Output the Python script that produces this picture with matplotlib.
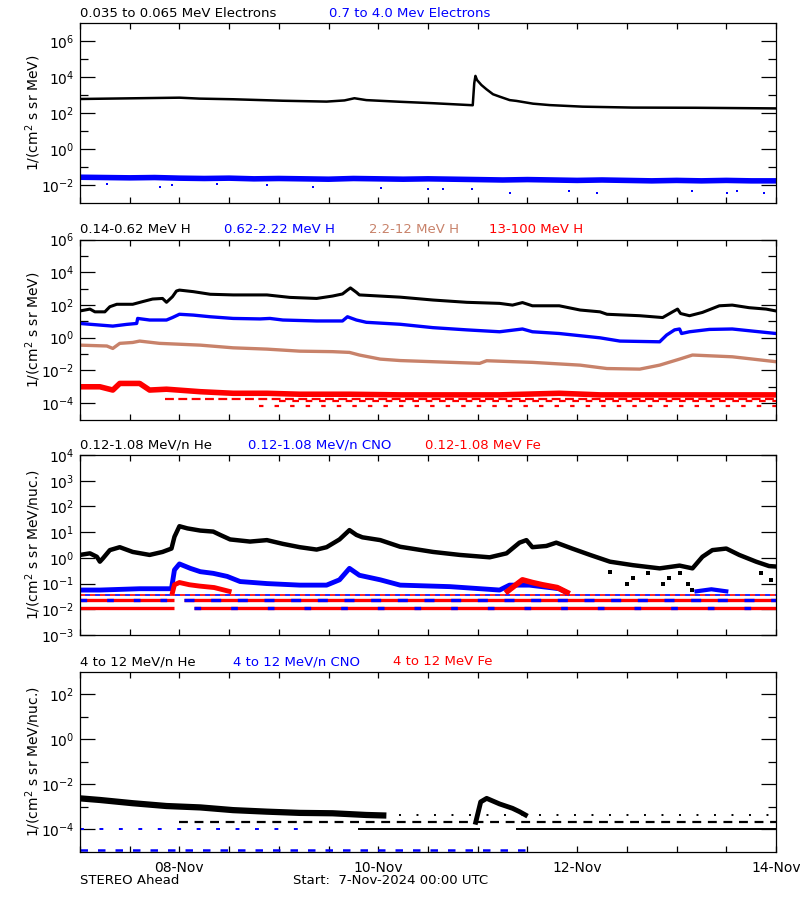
import numpy as np
import matplotlib
matplotlib.use("Agg")
import matplotlib.pyplot as plt

plt.rcParams['font.family'] = ['DejaVu Sans']
plt.rcParams['mathtext.default'] = 'regular'

BLUE = '#0000ff'
RED = '#ff0000'
BROWN = '#c8826a'
BLACK = '#000000'

# ---------------- time axis (days since 7-Nov-2024 00:00 UTC)
day_tick_pos = [1, 3, 5, 7]
day_tick_lab = ['08-Nov', '10-Nov', '12-Nov', '14-Nov']
half_day_ticks = [0, 0.5, 1, 1.5, 2, 2.5, 3, 3.5, 4, 4.5, 5, 5.5, 6, 6.5, 7]

# ---------------- Panel 1 : electrons
e_lo_t = [0.0, 1.0, 1.2, 1.54, 2.04, 2.48, 2.66, 2.76, 2.88, 3.22, 3.55, 3.95,
          3.965, 3.977, 3.993, 4.037, 4.087, 4.154, 4.221, 4.322, 4.389, 4.556,
          4.724, 5.055, 5.558, 6.2, 7.0]
e_lo_v = [600, 710, 630, 580, 480, 430, 500, 660, 520, 420, 350, 270,
          4500, 11500, 6800, 3600, 2100, 1100, 810, 520, 470, 330,
          275, 225, 200, 195, 180]

e_hi_t = [0.0, 0.25, 0.5, 0.75, 1.0, 1.25, 1.5, 1.75, 2.0, 2.25, 2.5, 2.75, 3.0,
          3.25, 3.5, 3.75, 4.0, 4.25, 4.5, 4.75, 5.0, 5.25, 5.5, 5.75, 6.0,
          6.25, 6.5, 6.75, 7.0]
e_hi_v = [0.027, 0.026, 0.025, 0.026, 0.024, 0.023, 0.024, 0.022, 0.023, 0.022,
          0.021, 0.023, 0.022, 0.021, 0.022, 0.021, 0.020, 0.019, 0.020, 0.019,
          0.018, 0.019, 0.018, 0.017, 0.018, 0.017, 0.018, 0.017, 0.017]
e_hi_out_t = [0.27, 0.80, 0.93, 1.38, 1.88, 2.34, 3.03, 3.50, 3.65, 3.94, 4.32,
              4.92, 5.20, 6.16, 6.51, 6.61, 6.88]
e_hi_out_v = [0.012, 0.008, 0.010, 0.012, 0.010, 0.008, 0.0065, 0.0058, 0.0058,
              0.0058, 0.0035, 0.0048, 0.0035, 0.0048, 0.0035, 0.0048, 0.0035]

# ---------------- Panel 2 : protons
h1_t = [0.0, 0.10, 0.15, 0.25, 0.30, 0.37, 0.53, 0.63, 0.73, 0.83, 0.87, 0.93,
        0.97, 1.0, 1.14, 1.31, 1.54, 1.88, 2.11, 2.38, 2.54, 2.64, 2.69, 2.72,
        2.78, 2.81, 3.22, 3.55, 3.89, 4.22, 4.35, 4.45, 4.55, 4.82, 5.03, 5.23,
        5.30, 5.63, 5.86, 5.96, 6.01, 6.04, 6.13, 6.26, 6.43, 6.56, 6.73, 6.90, 7.0]
h1_v = [43, 56, 38, 38, 78, 110, 110, 160, 230, 250, 145, 320,
        710, 810, 650, 450, 410, 410, 290, 250, 350, 470, 810, 1100,
        590, 410, 300, 200, 145, 125, 98, 140, 89, 89, 49, 38,
        27, 22, 17, 38, 56, 30, 22, 35, 89, 98, 68, 56, 43]

h2_t = [0.0, 0.20, 0.33, 0.47, 0.57, 0.58, 0.70, 0.87, 0.93, 1.0, 1.14, 1.31,
        1.54, 1.81, 1.91, 2.04, 2.38, 2.64, 2.69, 2.78, 2.88, 3.22, 3.55, 3.89,
        4.22, 4.45, 4.55, 4.82, 5.23, 5.43, 5.83, 5.90, 5.98, 6.03, 6.05, 6.13,
        6.33, 6.56, 6.83, 7.0]
h2_v = [7.4, 5.9, 5.1, 6.5, 7.4, 15, 12, 12, 17, 27, 24, 19,
        15, 14, 15, 12, 10.5, 10.5, 19, 12, 8.7, 6.6, 4.1, 3.0,
        2.3, 3.4, 2.3, 1.8, 0.98, 0.62, 0.56, 1.45, 3.0, 3.4, 1.8, 2.3,
        3.2, 3.4, 2.3, 1.8]

h3_t = [0.0, 0.27, 0.33, 0.40, 0.53, 0.60, 0.80, 1.21, 1.54, 1.88, 2.21, 2.54,
        2.71, 2.81, 3.02, 3.22, 4.02, 4.09, 4.55, 5.03, 5.30, 5.63, 5.83, 6.03,
        6.16, 6.56, 7.0]
h3_v = [0.35, 0.31, 0.22, 0.45, 0.51, 0.62, 0.45, 0.35, 0.24, 0.20, 0.15, 0.14,
        0.126, 0.087, 0.049, 0.040, 0.027, 0.039, 0.031, 0.021, 0.013, 0.012,
        0.021, 0.049, 0.087, 0.068, 0.034]

h4_t = [0.0, 0.20, 0.33, 0.40, 0.60, 0.70, 0.87, 1.21, 1.54, 1.88, 2.21, 2.71,
        3.22, 4.22, 4.82, 5.23, 6.23, 7.0]
h4_v = [1.0e-3, 1.0e-3, 6.3e-4, 1.6e-3, 1.6e-3, 6.3e-4, 7.1e-4, 5.0e-4, 4.0e-4,
        4.0e-4, 3.5e-4, 3.5e-4, 3.2e-4, 3.2e-4, 4.0e-4, 3.2e-4, 3.2e-4, 3.2e-4]
h4_floor_v = [1.7e-4, 1.26e-4, 6.9e-5]
h4_floor_t0 = [0.85, 2.0, 1.8]

# ---------------- Panel 3 : low-energy heavy ions
he1_t = [0.0, 0.10, 0.17, 0.20, 0.23, 0.30, 0.40, 0.53, 0.70, 0.83, 0.92, 0.95,
         1.0, 1.08, 1.21, 1.34, 1.41, 1.51, 1.71, 1.88, 2.04, 2.21, 2.38, 2.48,
         2.61, 2.71, 2.78, 2.84, 3.02, 3.22, 3.55, 3.82, 4.12, 4.29, 4.42, 4.49,
         4.55, 4.69, 4.79, 4.95, 5.13, 5.33, 5.56, 5.83, 6.03, 6.16, 6.26, 6.36,
         6.50, 6.63, 6.80, 6.93, 7.0]
he1_v = [1.3, 1.5, 1.1, 0.71, 0.95, 2.0, 2.6, 1.7, 1.3, 1.7, 2.3, 6.6,
         17, 14, 11.5, 10.5, 7.8, 5.2, 4.3, 4.9, 3.5, 2.6, 2.1, 2.6,
         5.2, 12, 7.8, 6.3, 4.9, 2.7, 1.7, 1.3, 1.05, 1.5, 3.9, 4.9,
         2.6, 2.9, 3.9, 2.3, 1.3, 0.71, 0.52, 0.39, 0.50, 0.39, 1.1, 2.0,
         2.3, 1.3, 0.71, 0.48, 0.46]
he1_out_t = [5.33, 5.50, 5.56, 5.71, 5.86, 5.92, 6.03, 6.11, 6.16, 6.85, 6.95]
he1_out_v = [0.29, 0.10, 0.16, 0.25, 0.10, 0.16, 0.25, 0.10, 0.056, 0.25, 0.14]

cno1_t = [0.0, 0.2, 0.6, 0.92, 0.95, 1.0, 1.11, 1.21, 1.34, 1.48, 1.61, 1.88,
          2.21, 2.48, 2.61, 2.71, 2.81, 3.02, 3.22, 3.72, 4.22, 4.32, 4.52,
          4.82, 4.87]
cno1_v = [0.056, 0.056, 0.063, 0.063, 0.34, 0.58, 0.39, 0.29, 0.25, 0.19, 0.12,
          0.10, 0.087, 0.087, 0.14, 0.39, 0.21, 0.14, 0.087, 0.076, 0.056, 0.087,
          0.087, 0.063, 0.05]
cno1b_t = [6.2, 6.35, 6.5]
cno1b_v = [0.05, 0.06, 0.05]

fe1a_t = [0.93, 0.95, 1.0, 1.1, 1.2, 1.35, 1.5]
fe1a_v = [0.045, 0.09, 0.11, 0.09, 0.08, 0.07, 0.05]
fe1b_t = [4.3, 4.4, 4.45, 4.55, 4.65, 4.8, 4.9]
fe1b_v = [0.05, 0.10, 0.14, 0.11, 0.09, 0.07, 0.045]

p3_floor_v = [0.035, 0.023, 0.011]

# ---------------- Panel 4 : high-energy heavy ions
he2_t = [0.0, 0.2, 0.53, 0.87, 1.21, 1.54, 1.88, 2.21, 2.54, 2.88, 3.05]
he2_v = [2.3e-3, 1.95e-3, 1.4e-3, 1.05e-3, 9.1e-4, 6.9e-4, 5.9e-4, 5.2e-4,
         5.0e-4, 4.2e-4, 4.0e-4]
he2_ev_t = [3.98, 4.03, 4.09, 4.22, 4.35, 4.42, 4.48]
he2_ev_v = [2.0e-4, 1.6e-3, 2.3e-3, 1.3e-3, 8.3e-4, 5.9e-4, 4.2e-4]
p4_black_floor_v = [4.0e-4, 2.0e-4, 1.0e-4]
p4_blue_floor_v = [1.0e-4, 1.2e-5]

# ---------------- figure
fig = plt.figure(figsize=(8, 9), dpi=100)
L, W, H = 80 / 800, 696 / 800, 180 / 900
tops = [23, 239.5, 455, 671.5]
axes = [fig.add_axes([L, 1 - (t + 180) / 900, W, H]) for t in tops]

FS = 9


def style(ax, top, ylim, major, minor, ylabel, xlabels=False):
    ax.set_xlim(0, 7)
    ax.set_yscale('log')
    ax.set_ylim(*ylim)
    ax.set_yticks([10.0 ** e for e in major])
    ax.set_yticklabels(['$10^{%d}$' % e for e in major], fontsize=FS + 1)
    ax.set_yticks([10.0 ** e for e in minor], minor=True)
    ax.set_yticklabels([], minor=True)
    ax.tick_params(axis='y', which='major', direction='in', length=11,
                   left=True, right=True, width=0.9, pad=4)
    ax.tick_params(axis='y', which='minor', direction='in', length=5.5,
                   left=True, right=True, width=0.9)
    ax.set_xticks(half_day_ticks)
    ax.set_xticks([], minor=True)
    if xlabels:
        ax.set_xticklabels([day_tick_lab[day_tick_pos.index(d)] if d in day_tick_pos else ''
                            for d in half_day_ticks], fontsize=FS + 1)
    else:
        ax.set_xticklabels([])
    ax.tick_params(axis='x', which='major', direction='in', length=4,
                   top=True, bottom=True, width=0.9, pad=7)
    for s in ax.spines.values():
        s.set_linewidth(0.9)
    fig.text(33 / 800, 1 - (top + 90) / 900, ylabel, fontsize=FS + 1,
             rotation=90, ha='center', va='center')


def floor(ax, t0, t1, v, color, lw=2.2, ls='-'):
    ax.plot([t0, t1], [v, v], color=color, lw=lw, ls=ls, solid_capstyle='butt',
            dash_capstyle='butt')


# Panel 1
ax = axes[0]
ax.plot(e_hi_t, e_hi_v, color=BLUE, lw=4)
ax.plot(e_hi_out_t, e_hi_out_v, ls='none', marker='s', ms=2, color=BLUE, mew=0)
ax.plot(e_lo_t, e_lo_v, color=BLACK, lw=1.8)
style(ax, tops[0], (1e-3, 1e7), [-2, 0, 2, 4, 6], [-1, 1, 3, 5], '1/(cm$^2$ s sr MeV)')

# Panel 2
ax = axes[1]
ax.plot(h4_t, h4_v, color=RED, lw=4)
for v, t0, ls in zip(h4_floor_v, h4_floor_t0, [(0, (4, 2)), (0, (3, 3)), (0, (2, 5))]):
    floor(ax, t0, 7, v, RED, lw=1.6, ls=ls)
ax.plot(h3_t, h3_v, color=BROWN, lw=2.4)
ax.plot(h2_t, h2_v, color=BLUE, lw=2.4)
ax.plot(h1_t, h1_v, color=BLACK, lw=2.2)
style(ax, tops[1], (1e-5, 1e6), [-4, -2, 0, 2, 4, 6], [-3, -1, 1, 3, 5],
      '1/(cm$^2$ s sr MeV)')

# Panel 3
ax = axes[2]
floor(ax, 0, 7, p3_floor_v[0], RED, lw=1.2, ls=(0, (3, 3)))
floor(ax, 0, 7, p3_floor_v[0], BLUE, lw=1.2, ls=(3, (3, 3)))
floor(ax, 0, 0.95, p3_floor_v[1], RED, lw=2.4)
floor(ax, 1.05, 7, p3_floor_v[1], RED, lw=2.4)
floor(ax, 0, 0.95, p3_floor_v[1], BLUE, lw=2.4, ls=(0, (2, 6)))
floor(ax, 1.05, 7, p3_floor_v[1], BLUE, lw=2.4, ls=(0, (3, 5)))
floor(ax, 0, 0.95, p3_floor_v[2], RED, lw=2.4)
floor(ax, 1.15, 7, p3_floor_v[2], RED, lw=2.4)
floor(ax, 1.15, 7, p3_floor_v[2], BLUE, lw=2.4, ls=(0, (2, 9)))
ax.plot(cno1_t, cno1_v, color=BLUE, lw=3.5)
ax.plot(cno1b_t, cno1b_v, color=BLUE, lw=3)
ax.plot(fe1a_t, fe1a_v, color=RED, lw=3.5)
ax.plot(fe1b_t, fe1b_v, color=RED, lw=4)
ax.plot(he1_t, he1_v, color=BLACK, lw=3.2)
ax.plot(he1_out_t, he1_out_v, ls='none', marker='s', ms=2.2, color=BLACK, mew=0)
style(ax, tops[2], (1e-3, 1e4), [-3, -2, -1, 0, 1, 2, 3, 4], [],
      '1/(cm$^2$ s sr MeV/nuc.)')

# Panel 4
ax = axes[3]
floor(ax, 0, 4.5, p4_blue_floor_v[1], BLUE, lw=1.8, ls=(0, (3, 4)))
floor(ax, 0, 2.2, p4_blue_floor_v[0], BLUE, lw=1.4, ls=(0, (2, 8)))
floor(ax, 2.8, 4.02, p4_black_floor_v[2], BLACK, lw=1.4)
floor(ax, 4.39, 7, p4_black_floor_v[2], BLACK, lw=1.4)
floor(ax, 1.0, 7, p4_black_floor_v[1], BLACK, lw=1.6, ls=(0, (4, 3)))
floor(ax, 2.5, 7, p4_black_floor_v[0], BLACK, lw=1.4, ls=(0, (1, 8)))
ax.plot(he2_t, he2_v, color=BLACK, lw=4.5)
ax.plot(he2_ev_t, he2_ev_v, color=BLACK, lw=3.5)
style(ax, tops[3], (1e-5, 1e3), [-4, -2, 0, 2], [-3, -1, 1],
      '1/(cm$^2$ s sr MeV/nuc.)', xlabels=True)

# titles
titles = [
    (13.3, [(80, '0.035 to 0.065 MeV Electrons', BLACK), (329, '0.7 to 4.0 Mev Electrons', BLUE)]),
    (229.3, [(80, '0.14-0.62 MeV H', BLACK), (224, '0.62-2.22 MeV H', BLUE),
             (369, '2.2-12 MeV H', BROWN), (489, '13-100 MeV H', RED)]),
    (445.5, [(80, '0.12-1.08 MeV/n He', BLACK), (248, '0.12-1.08 MeV/n CNO', BLUE),
             (425, '0.12-1.08 MeV Fe', RED)]),
    (661.7, [(80, '4 to 12 MeV/n He', BLACK), (233, '4 to 12 MeV/n CNO', BLUE),
             (393, '4 to 12 MeV Fe', RED)]),
]
for y, items in titles:
    for x, s, c in items:
        fig.text(x / 800, 1 - y / 900, s, color=c, fontsize=FS + 0.5,
                 ha='left', va='center')

fig.text(80 / 800, 1 - 881 / 900, 'STEREO Ahead', fontsize=FS + 0.5, ha='left', va='center')
fig.text(293 / 800, 1 - 881 / 900, 'Start:  7-Nov-2024 00:00 UTC', fontsize=FS + 0.5,
         ha='left', va='center')

fig.savefig('out.png', dpi=100, facecolor='white')
